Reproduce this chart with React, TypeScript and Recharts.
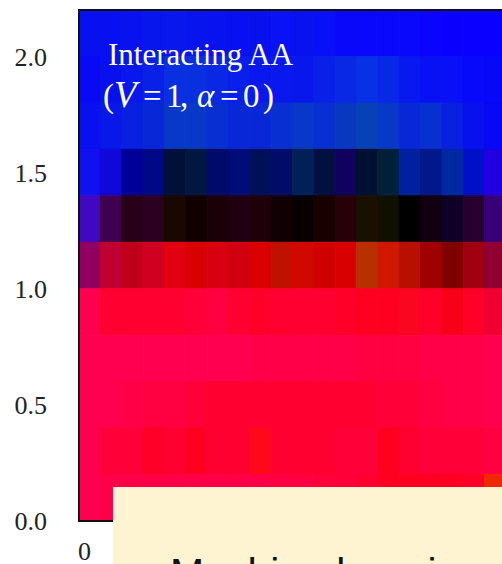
import React from 'react';
import { ComposedChart, XAxis, YAxis, ReferenceArea, Scatter } from 'recharts';

// column index (momentum bin) and row lower edges (energy bins, top to bottom)
const columns = [0, 1, 2, 3, 4, 5, 6, 7, 8, 9, 10, 11, 12, 13, 14, 15, 16, 17, 18, 19];
const rowLower = [2.0, 1.8, 1.6, 1.4, 1.2, 1.0, 0.8, 0.6, 0.4, 0.2, 0.0];
const rowHeight = 0.2;
const columnWidth = 1;
const yTicks = [0, 0.5, 1.0, 1.5, 2.0];
const xTicks = [0];

// channel intensities (0-255), rows listed from top (2.0-2.2) to bottom (0.0-0.2)
const redLevel = [
  [8, 8, 8, 8, 8, 8, 8, 8, 8, 8, 8, 8, 10, 10, 10, 10, 10, 10, 10, 10],
  [8, 8, 8, 8, 8, 8, 8, 8, 8, 8, 8, 8, 8, 8, 8, 8, 8, 8, 8, 8],
  [8, 8, 8, 8, 8, 8, 8, 8, 8, 8, 8, 8, 8, 8, 8, 8, 8, 8, 8, 8],
  [16, 16, 0, 0, 0, 0, 0, 0, 0, 0, 0, 0, 16, 0, 0, 0, 0, 0, 0, 32],
  [64, 64, 40, 44, 24, 16, 28, 32, 32, 16, 8, 24, 40, 26, 16, 0, 16, 16, 40, 56],
  [144, 192, 192, 208, 224, 216, 216, 208, 216, 192, 208, 208, 216, 184, 208, 184, 160, 128, 160, 144],
  [255, 255, 255, 255, 255, 255, 255, 255, 255, 255, 255, 255, 255, 255, 255, 250, 255, 248, 255, 240],
  [255, 255, 255, 255, 255, 255, 255, 255, 255, 255, 255, 255, 255, 255, 255, 255, 255, 255, 255, 255],
  [255, 255, 255, 255, 255, 255, 255, 255, 255, 255, 255, 255, 255, 255, 255, 255, 255, 255, 255, 255],
  [255, 255, 255, 255, 255, 255, 255, 255, 255, 255, 255, 255, 255, 255, 255, 255, 255, 255, 255, 255],
  [255, 255, 255, 255, 255, 255, 255, 255, 255, 255, 255, 255, 255, 255, 255, 255, 255, 255, 255, 240],
];
const greenLevel = [
  [16, 16, 18, 22, 24, 20, 18, 16, 16, 18, 18, 16, 8, 8, 8, 8, 4, 0, 0, 0],
  [10, 16, 24, 32, 48, 48, 40, 32, 24, 24, 24, 32, 40, 48, 40, 24, 16, 16, 8, 8],
  [16, 24, 32, 40, 56, 56, 48, 40, 40, 48, 56, 48, 56, 64, 56, 40, 48, 32, 16, 8],
  [16, 8, 0, 8, 16, 24, 10, 12, 16, 12, 32, 16, 0, 16, 32, 32, 24, 40, 16, 0],
  [8, 0, 0, 0, 8, 0, 0, 0, 0, 0, 0, 0, 0, 16, 16, 0, 0, 0, 0, 0],
  [0, 0, 0, 0, 0, 0, 0, 0, 0, 16, 8, 0, 0, 48, 24, 16, 0, 0, 0, 0],
  [0, 0, 0, 0, 0, 0, 0, 0, 0, 0, 0, 0, 0, 0, 0, 6, 0, 0, 0, 0],
  [0, 0, 0, 0, 0, 0, 0, 0, 0, 0, 0, 0, 0, 0, 0, 0, 0, 0, 0, 0],
  [0, 0, 0, 0, 0, 0, 0, 0, 0, 0, 0, 0, 0, 0, 0, 0, 0, 0, 0, 0],
  [0, 0, 0, 0, 0, 0, 0, 0, 8, 0, 0, 0, 0, 0, 0, 0, 0, 0, 0, 0],
  [0, 0, 0, 0, 0, 0, 0, 0, 0, 0, 0, 0, 0, 0, 0, 0, 0, 0, 0, 40],
];
const blueLevel = [
  [242, 242, 240, 238, 236, 238, 240, 242, 240, 245, 240, 248, 250, 252, 252, 252, 255, 255, 255, 255],
  [245, 240, 236, 232, 224, 224, 229, 234, 238, 238, 236, 232, 229, 229, 232, 240, 245, 248, 250, 248],
  [240, 232, 224, 216, 200, 200, 208, 216, 216, 208, 200, 208, 192, 184, 200, 216, 208, 224, 240, 245],
  [240, 216, 152, 136, 56, 64, 104, 120, 88, 104, 88, 64, 96, 48, 56, 160, 138, 160, 200, 224],
  [192, 80, 24, 32, 0, 0, 8, 16, 8, 4, 0, 0, 8, 0, 0, 0, 16, 40, 48, 120],
  [96, 48, 24, 32, 16, 0, 16, 16, 0, 0, 0, 0, 0, 0, 0, 0, 0, 0, 16, 48],
  [80, 48, 48, 48, 48, 56, 64, 48, 40, 48, 48, 48, 40, 32, 32, 32, 40, 24, 40, 48],
  [80, 80, 80, 80, 80, 80, 80, 80, 72, 72, 72, 72, 72, 64, 64, 64, 72, 72, 72, 80],
  [80, 80, 72, 64, 64, 56, 48, 48, 48, 48, 48, 48, 48, 48, 56, 56, 64, 72, 72, 80],
  [80, 56, 56, 40, 48, 32, 48, 48, 28, 48, 48, 48, 56, 56, 32, 48, 56, 56, 56, 64],
  [80, 72, 72, 72, 72, 72, 72, 72, 72, 64, 64, 56, 56, 48, 32, 32, 32, 32, 40, 0],
];

const toColor = (r: number, g: number, b: number) => `rgb(${r},${g},${b})`;

const chartData = columns.map((c) => ({ x: c, y: 0 }));

const XTick = (props: any) => {
  const { x, y, payload } = props;
  return (
    <text x={x + 5.5} y={y} dy="0.71em" textAnchor="middle" fill="#222" fontSize={26} fontFamily="Liberation Serif">
      {payload.value}
    </text>
  );
};

const NoShape = () => <g />;

export default function App() {
  const cells: React.ReactElement[] = [];
  rowLower.forEach((y0, r) => {
    columns.forEach((c, ci) => {
      const color = toColor(redLevel[r][ci], greenLevel[r][ci], blueLevel[r][ci]);
      cells.push(
        <ReferenceArea
          key={`c-${r}-${ci}`}
          x1={c}
          x2={c + columnWidth}
          y1={y0}
          y2={y0 + rowHeight}
          fill={color}
          fillOpacity={1}
          stroke={color}
          strokeWidth={1}
          ifOverflow="extendDomain"
        />
      );
    });
  });

  return (
    <div style={{ position: 'relative', width: 494, height: 556, overflow: 'hidden' }}>
      <style>{'html, body { overflow: hidden; } body { margin: 8px 0 0 8px; }'}</style>
      <ComposedChart width={498} height={556} data={chartData} margin={{ top: 2, right: 0, bottom: 0, left: 0 }}>
        <XAxis
          type="number"
          dataKey="x"
          domain={[0, 20]}
          ticks={xTicks}
          axisLine={false}
          tickLine={false}
          tickSize={0}
          tickMargin={21}
          height={43}
          tick={<XTick />}
          allowDataOverflow
        />
        <YAxis
          type="number"
          domain={[0, 2.2]}
          ticks={yTicks}
          axisLine={false}
          tickLine={false}
          tickSize={0}
          tickMargin={32}
          width={71}
          tickFormatter={(v: number) => v.toFixed(1)}
          tick={{ fill: '#222', fontSize: 26, fontFamily: 'Liberation Serif' }}
          allowDataOverflow
        />
        <Scatter dataKey="y" isAnimationActive={false} shape={<NoShape />} />
        {cells}
        <ReferenceArea
          x1={0}
          x2={20}
          y1={0}
          y2={2.2}
          fill="none"
          fillOpacity={0}
          stroke="#111"
          strokeWidth={2}
          ifOverflow="extendDomain"
        />
      </ComposedChart>
      <svg
        width={494}
        height={556}
        style={{ position: 'absolute', left: 0, top: 0, pointerEvents: 'none' }}
      >
        <text x={100} y={56.5} fill="#fff" fontSize={31} fontFamily="Liberation Serif">
          Interacting AA
        </text>
        <text y={98.5} fill="#fff" fontSize={33} fontFamily="Liberation Serif">
          <tspan x={95}>(</tspan>
          <tspan x={106} fontStyle="italic" fontSize={37}>V</tspan>
          <tspan x={135}>=</tspan>
          <tspan x={158}>1</tspan>
          <tspan x={172}>,</tspan>
          <tspan x={189} fontStyle="italic">α</tspan>
          <tspan x={212}>=</tspan>
          <tspan x={235}>0</tspan>
          <tspan x={255}>)</tspan>
        </text>
        <rect x={105} y={479} width={400} height={100} fill="#fff4d1" />
        <text x={162} y={579} fill="#111" fontSize={41} fontFamily="Liberation Sans">
          Machine learning
        </text>
      </svg>
    </div>
  );
}
